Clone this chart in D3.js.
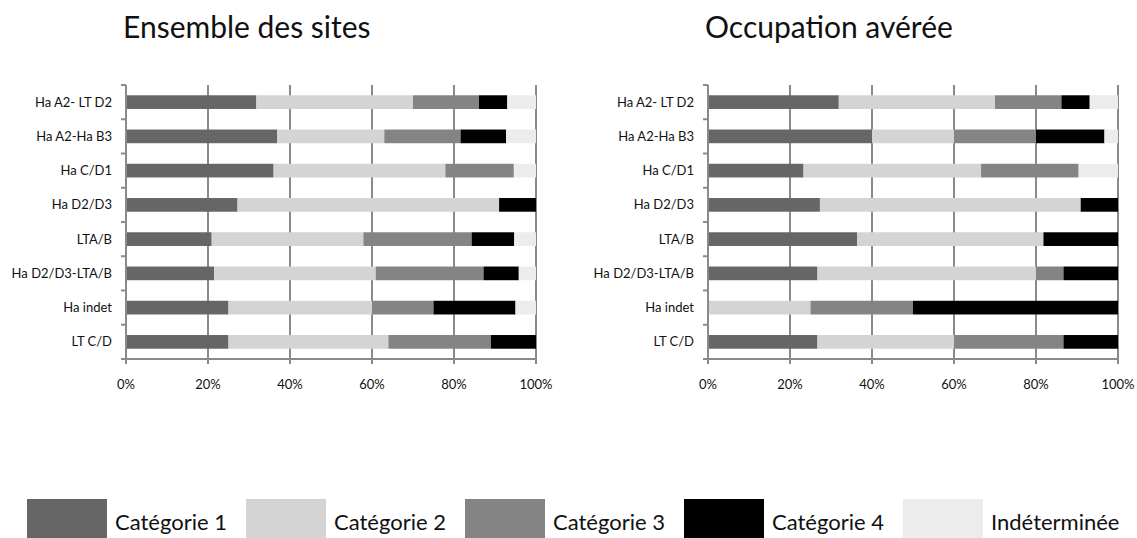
<!DOCTYPE html>
<html><head><meta charset="utf-8">
<script src="https://cdn.jsdelivr.net/npm/d3@7"></script>
<style>body{margin:0;background:#fff}svg{display:block}</style>
</head><body>
<script>
const categories = ["Ha A2- LT D2","Ha A2-Ha B3","Ha C/D1","Ha D2/D3","LTA/B","Ha D2/D3-LTA/B","Ha indet","LT C/D"];
const seriesNames = ["Catégorie 1","Catégorie 2","Catégorie 3","Catégorie 4","Indéterminée"];
const titles = ["Ensemble des sites","Occupation avérée"];
const tickValues = [0,0.2,0.4,0.6,0.8,1];

// Ensemble des sites (%)
const ensembleCat1  = [31.8,36.9,36.0,27.2,20.9,21.5,25,25];
const ensembleCat2  = [38.2,26.1,41.9,63.8,37.0,39.4,35,39];
const ensembleCat3  = [16.1,18.6,16.7,0,26.4,26.3,15,25];
const ensembleCat4  = [6.9,11.1,0,9.0,10.4,8.6,20,11];
const ensembleIndet = [7.0,7.3,5.4,0,5.3,4.2,5,0];

// Occupation avérée (%)
const occCat1  = [31.9,40,23.3,27.3,36.4,26.7,0,26.7];
const occCat2  = [38.1,20,43.3,63.6,45.5,53.3,25,33.3];
const occCat3  = [16.2,20,23.8,0,0,6.7,25,26.7];
const occCat4  = [6.9,16.7,0,9.1,18.2,13.3,50,13.3];
const occIndet = [6.9,3.3,9.6,0,0,0,0,0];

const colors = ["#666666","#d4d4d4","#848484","#000000","#ececec"];

const W = 1137, H = 538;
const svg = d3.select("body").append("svg").attr("width", W).attr("height", H);
const FONT = "Lato, 'Open Sans', sans-serif";
const gridColor = "#8a8a8a";

function buildRows(arrs){
  return categories.map((c,i)=>{
    const o = {cat:c};
    seriesNames.forEach((s,j)=>o[s]=arrs[j][i]);
    return o;
  });
}

const panels = [
  {title: titles[0], rows: buildRows([ensembleCat1,ensembleCat2,ensembleCat3,ensembleCat4,ensembleIndet]), x0:126, x1:536},
  {title: titles[1], rows: buildRows([occCat1,occCat2,occCat3,occCat4,occIndet]), x0:708, x1:1118}
];

const yTop = 85, yBot = 359;

panels.forEach(p=>{
  const g = svg.append("g");
  const x = d3.scaleLinear().domain([0,1]).range([p.x0,p.x1]);
  const y = d3.scaleBand().domain(categories).range([yTop,yBot]).paddingInner(0.6).paddingOuter(0.3);
  const yb = d3.scaleBand().domain(categories).range([yTop,yBot]);

  // gridlines
  g.append("g").selectAll("line").data(tickValues.slice(1)).join("line")
    .attr("x1",d=>x(d)).attr("x2",d=>x(d)).attr("y1",yTop).attr("y2",yBot+5)
    .attr("stroke",gridColor).attr("stroke-width",2);

  // stacked bars
  const stack = d3.stack().keys(seriesNames).offset(d3.stackOffsetExpand);
  const series = stack(p.rows);
  g.append("g").selectAll("g").data(series).join("g")
    .attr("fill",(d,i)=>colors[i])
    .selectAll("rect").data(d=>d).join("rect")
    .attr("x",d=>x(d[0])).attr("width",d=>Math.max(0,x(d[1])-x(d[0])))
    .attr("y",d=>y(d.data.cat)).attr("height",y.bandwidth());

  // y axis line + ticks at band boundaries
  g.append("line").attr("x1",p.x0).attr("x2",p.x0).attr("y1",yTop).attr("y2",yBot+5)
    .attr("stroke",gridColor).attr("stroke-width",2);
  const bounds = categories.map(c=>yb(c)).concat([yBot]);
  g.append("g").selectAll("line").data(bounds).join("line")
    .attr("x1",p.x0-5).attr("x2",p.x0).attr("y1",d=>d).attr("y2",d=>d)
    .attr("stroke",gridColor).attr("stroke-width",2);
  // x axis line
  g.append("line").attr("x1",p.x0).attr("x2",p.x1).attr("y1",yBot).attr("y2",yBot)
    .attr("stroke",gridColor).attr("stroke-width",2);

  // y labels
  g.append("g").selectAll("text").data(categories).join("text")
    .attr("x",p.x0-14).attr("y",d=>yb(d)+yb.bandwidth()/2).attr("dy","0.35em")
    .attr("text-anchor","end").attr("font-family",FONT).attr("font-size",13)
    .attr("fill","#111").text(d=>d);

  // x labels
  g.append("g").selectAll("text").data(tickValues).join("text")
    .attr("x",d=>x(d)).attr("y",389).attr("text-anchor","middle")
    .attr("font-family",FONT).attr("font-size",13).attr("fill","#111")
    .text(d=>d3.format(".0%")(d));

  // title
  g.append("text").attr("x",p.x0-3).attr("y",38).attr("font-family",FONT)
    .attr("font-size",30).attr("fill","#111").text(p.title);
});

// legend
const legendX = d3.scalePoint().domain(seriesNames).range([27,903]);
const lg = svg.append("g").selectAll("g").data(seriesNames).join("g")
  .attr("transform",d=>`translate(${legendX(d)},0)`);
lg.append("rect").attr("x",0).attr("y",499).attr("width",80).attr("height",39)
  .attr("fill",(d,i)=>colors[i]);
lg.append("text").attr("x",88).attr("y",530).attr("font-family",FONT)
  .attr("font-size",22).attr("fill","#111").text(d=>d);
</script>
</body></html>
